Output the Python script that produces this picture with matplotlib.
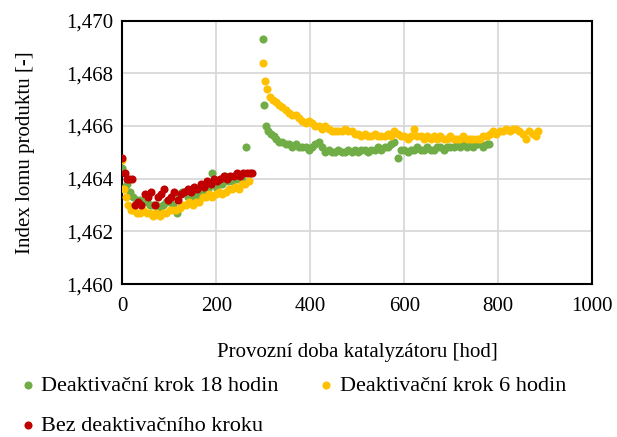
import matplotlib
matplotlib.use("Agg")
import matplotlib.pyplot as plt
from matplotlib.ticker import FuncFormatter, MultipleLocator

plt.rcParams['font.family'] = ['Liberation Serif', 'DejaVu Serif']

# Deaktivacni krok 18 hodin (green)
t_18a = [0, 5, 10, 17, 24, 31, 38, 45, 52, 59, 66, 73, 80, 87, 94, 101, 108, 116,
         120, 127, 134, 141, 148, 155, 162, 169, 176, 183, 192, 199, 206, 213, 219,
         226, 233, 240, 247, 254, 264]
n_18a = [1.4644, 1.4637, 1.4638, 1.4635, 1.4633, 1.4632, 1.4632, 1.4631, 1.4631,
         1.4630, 1.4630, 1.4630, 1.4628, 1.4630, 1.4631, 1.4631, 1.4630, 1.4627,
         1.4634, 1.4635, 1.4635, 1.4633, 1.4632, 1.4633, 1.4634, 1.4635, 1.4636,
         1.4636, 1.4642, 1.4637, 1.4638, 1.4638, 1.4641, 1.4639, 1.4639, 1.4640,
         1.4640, 1.4640, 1.4652]
t_18b = [300, 302, 305, 310, 316, 322, 328, 334, 341, 348, 355, 362, 369, 376, 383,
         390, 397, 404, 411, 418, 425, 432, 439, 446, 453, 460, 467, 474, 481, 488,
         495, 502, 509, 516, 523, 530, 537, 544, 551, 558, 565, 572, 579, 586, 593,
         600, 607, 614, 621, 628, 635, 642, 649, 656, 663, 670, 677, 684, 691, 698,
         705, 712, 719, 726, 733, 740, 747, 754, 761, 768, 775, 780]
n_18b = [1.4693, 1.4668, 1.4660, 1.4658, 1.4657, 1.4656, 1.4655, 1.4654, 1.4654,
         1.4653, 1.4653, 1.4652, 1.4653, 1.4652, 1.4652, 1.4652, 1.4651, 1.4652,
         1.4653, 1.4654, 1.4652, 1.4650, 1.4651, 1.4650, 1.4650, 1.4651, 1.4650,
         1.4650, 1.4651, 1.4650, 1.4651, 1.4650, 1.4651, 1.4651, 1.4650, 1.4651,
         1.4651, 1.4652, 1.4651, 1.4652, 1.4652, 1.4653, 1.4654, 1.4648, 1.4651,
         1.4651, 1.4650, 1.4651, 1.4651, 1.4652, 1.4651, 1.4651, 1.4652, 1.4651,
         1.4651, 1.4652, 1.4652, 1.4651, 1.4652, 1.4652, 1.4652, 1.4653, 1.4652,
         1.4653, 1.4652, 1.4653, 1.4652, 1.4653, 1.4653, 1.4652, 1.4653, 1.4653]

# Deaktivacni krok 6 hodin (yellow)
t_6a = [0, 4, 8, 13, 18, 24, 31, 38, 45, 52, 59, 66, 73, 80, 87, 94, 101, 108, 115,
        122, 129, 136, 143, 150, 157, 164, 171, 178, 185, 192, 199, 206, 213, 220,
        227, 234, 241, 248, 255, 262, 269]
n_6a = [1.4647, 1.4636, 1.4633, 1.4630, 1.4628, 1.4628, 1.4627, 1.4627, 1.4628,
        1.4627, 1.4627, 1.4626, 1.4627, 1.4626, 1.4627, 1.4627, 1.4628, 1.4628,
        1.4628, 1.4629, 1.4630, 1.4630, 1.4631, 1.4630, 1.4631, 1.4631, 1.4633,
        1.4633, 1.4634, 1.4633, 1.4634, 1.4635, 1.4634, 1.4635, 1.4636, 1.4636,
        1.4637, 1.4636, 1.4638, 1.4638, 1.4639]
t_6b = [300, 303, 308, 314, 320, 327, 334, 341, 348, 355, 362, 369, 376, 383, 390,
        397, 404, 411, 418, 425, 432, 439, 446, 453, 460, 467, 474, 481, 488, 495,
        502, 509, 516, 523, 530, 537, 544, 551, 558, 565, 572, 579, 586, 593, 600,
        607, 614, 621, 628, 635, 642, 649, 656, 663, 670, 677, 684, 691, 698, 705,
        712, 719, 726, 733, 740, 747, 754, 761, 768, 775, 782, 789, 796, 803, 810,
        817, 824, 831, 838, 845, 852, 859, 866, 873, 880, 885]
n_6b = [1.4684, 1.4677, 1.4674, 1.4671, 1.4670, 1.4669, 1.4668, 1.4667, 1.4666,
        1.4665, 1.4664, 1.4664, 1.4663, 1.4662, 1.4661, 1.4662, 1.4661, 1.4660,
        1.4660, 1.4659, 1.4660, 1.4659, 1.4658, 1.4658, 1.4658, 1.4658, 1.4659,
        1.4658, 1.4658, 1.4657, 1.4657, 1.4656, 1.4657, 1.4656, 1.4656, 1.4657,
        1.4656, 1.4656, 1.4656, 1.4657, 1.4656, 1.4658, 1.4657, 1.4656, 1.4656,
        1.4655, 1.4656, 1.4659, 1.4656, 1.4656, 1.4655, 1.4656, 1.4655, 1.4656,
        1.4655, 1.4656, 1.4655, 1.4655, 1.4656, 1.4655, 1.4655, 1.4655, 1.4656,
        1.4655, 1.4655, 1.4655, 1.4655, 1.4655, 1.4656, 1.4656, 1.4657, 1.4658,
        1.4657, 1.4658, 1.4658, 1.4659, 1.4658, 1.4659, 1.4659, 1.4658, 1.4657,
        1.4655, 1.4658, 1.4657, 1.4656, 1.4658]

# Bez deaktivacniho kroku (red)
t_0 = [0, 5, 10, 15, 20, 27, 34, 41, 48, 55, 62, 69, 76, 83, 90, 97, 104, 111, 118,
       125, 132, 139, 146, 153, 160, 167, 174, 181, 188, 195, 202, 209, 216, 223,
       230, 237, 244, 251, 258, 265, 272, 277]
n_0 = [1.4648, 1.4642, 1.4640, 1.4640, 1.4640, 1.4630, 1.4631, 1.4630, 1.4634,
       1.4633, 1.4635, 1.4630, 1.4633, 1.4634, 1.4636, 1.4632, 1.4633, 1.4635,
       1.4632, 1.4634, 1.4635, 1.4636, 1.4635, 1.4637, 1.4636, 1.4638, 1.4637,
       1.4639, 1.4638, 1.4640, 1.4639, 1.4640, 1.4641, 1.4640, 1.4641, 1.4641,
       1.4642, 1.4641, 1.4642, 1.4642, 1.4642, 1.4642]

labels = ['Deaktivační krok 18 hodin', 'Deaktivační krok 6 hodin',
          'Bez deaktivačního kroku']
colors = ['#70AD47', '#FFC000', '#C00000']
fs = 15

fig = plt.figure(figsize=(6.17, 4.37), dpi=100)
ax = fig.add_axes([0.198, 0.350, 0.762, 0.603])

ms = 34
h18 = ax.scatter(t_18a + t_18b, n_18a + n_18b, s=ms, color=colors[0],
                 label=labels[0], zorder=3, linewidths=0)
h6 = ax.scatter(t_6a + t_6b, n_6a + n_6b, s=ms, color=colors[1],
                label=labels[1], zorder=3, linewidths=0)
h0 = ax.scatter(t_0, n_0, s=ms, color=colors[2], label=labels[2], zorder=3,
                linewidths=0)

ax.set_xlim(0, 1000)
ax.set_ylim(1.460, 1.470)
ax.xaxis.set_major_locator(MultipleLocator(200))
ax.yaxis.set_major_locator(MultipleLocator(0.002))
ax.yaxis.set_major_formatter(FuncFormatter(lambda v, p: f'{v:.3f}'.replace('.', ',')))
ax.grid(True, color='#D9D9D9', linewidth=1.3)
ax.set_axisbelow(True)
for s in ax.spines.values():
    s.set_linewidth(1.5)
    s.set_color('black')
ax.tick_params(length=0, labelsize=fs, pad=6.5)
ax.tick_params(axis='x', pad=9)

ax.set_xlabel('Provozní doba katalyzátoru [hod]', fontsize=fs, labelpad=20)
ax.set_ylabel('Index lomu produktu [-]', fontsize=fs, labelpad=22)

fig.legend([h18, h0, h6], [labels[0], labels[2], labels[1]], ncol=2,
           loc='upper center', bbox_to_anchor=(0.474, 0.172), frameon=False,
           fontsize=16, handlelength=0.8, handletextpad=0.2, columnspacing=1.75,
           labelspacing=0.9, borderaxespad=0.2)

fig.savefig('out.png', dpi=100)
